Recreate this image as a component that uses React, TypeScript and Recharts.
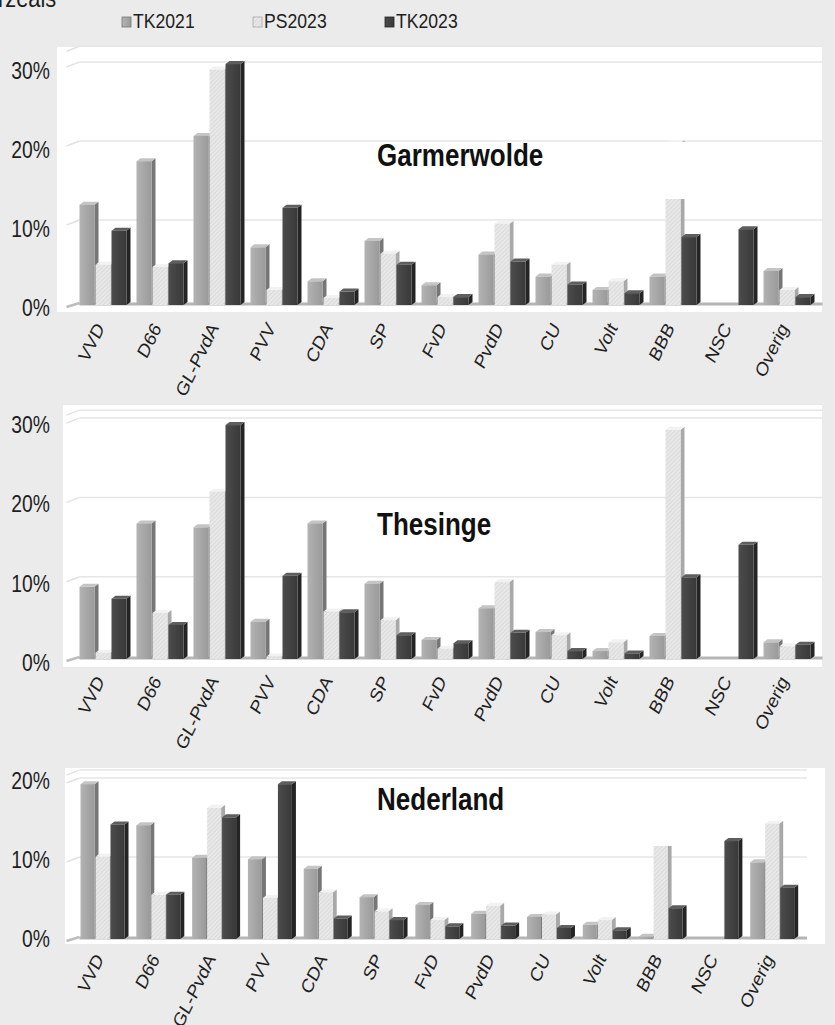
import React from "react";
import { BarChart, Bar, XAxis, YAxis, CartesianGrid } from "recharts";

// Vote share per party (%), three elections, three areas.
const categories = ["VVD", "D66", "GL-PvdA", "PVV", "CDA", "SP", "FvD", "PvdD", "CU", "Volt", "BBB", "NSC", "Overig"];
const seriesNames = ["TK2021", "PS2023", "TK2023"];

const garmerTK21 = [12.7, 18.2, 21.4, 7.3, 3.0, 8.1, 2.5, 6.4, 3.6, 1.9, 3.6, 0, 4.3];
const garmerPS23 = [5.1, 4.8, 29.8, 1.9, 0.9, 6.5, 1.0, 10.3, 5.1, 3.0, 20.5, 0, 1.9];
const garmerTK23 = [9.4, 5.3, 30.5, 12.3, 1.7, 5.1, 1.0, 5.5, 2.6, 1.5, 8.6, 9.6, 1.0];

const thesTK21 = [9.1, 17.1, 16.6, 4.7, 17.1, 9.5, 2.4, 6.4, 3.4, 1.0, 2.9, 0, 2.1];
const thesPS23 = [0.8, 5.8, 21.1, 0.3, 6.0, 4.9, 1.3, 9.7, 3.0, 2.1, 28.9, 0, 1.6];
const thesTK23 = [7.6, 4.3, 29.5, 10.5, 5.9, 3.0, 2.0, 3.3, 1.0, 0.7, 10.3, 14.4, 1.8];

const nlTK21 = [19.6, 14.4, 10.3, 10.1, 8.9, 5.3, 4.3, 3.2, 2.8, 1.8, 0.3, 0, 9.7];
const nlPS23 = [10.4, 5.6, 16.6, 5.2, 5.9, 3.5, 2.4, 4.2, 3.1, 2.4, 19.2, 0, 14.6];
const nlTK23 = [14.5, 5.6, 15.4, 19.6, 2.6, 2.4, 1.6, 1.7, 1.4, 1.1, 3.9, 12.4, 6.5];

const ticks30 = [0, 10, 20, 30];
const ticks20 = [0, 10, 20];

const FONT = "'Liberation Sans', Arial, sans-serif";
const SQ = 0.84; // the source text is horizontally squeezed

const colors = [
  { front: "url(#gTK21)", side: "#767676", top: "#c4c4c4" },
  { front: "url(#pPS23)", side: "#a9a9a9", top: "#f2f2f2" },
  { front: "url(#gTK23)", side: "#242424", top: "#5e5e5e" },
];

function build(a: number[], b: number[], c: number[]) {
  return categories.map((name, i) => ({ name, TK2021: a[i], PS2023: b[i], TK2023: c[i] }));
}

function Bar3D(props: any) {
  const { x, y, width, height, front, side, top } = props;
  if (!height || height <= 0) return null;
  const dx = 4;
  const dy = 3;
  return (
    <g>
      <polygon
        points={`${x + width},${y} ${x + width + dx},${y - dy} ${x + width + dx},${y + height - dy} ${x + width},${y + height}`}
        fill={side}
      />
      <polygon points={`${x},${y} ${x + dx},${y - dy} ${x + width + dx},${y - dy} ${x + width},${y}`} fill={top} />
      <rect x={x} y={y} width={width} height={height} fill={front} />
    </g>
  );
}

type PanelProps = {
  top: number;
  data: any[];
  max: number;
  px: number;
  ticks: number[];
  right: number;
  barSize: number;
  shift: number;
  labelDy: number;
  tickDy: number;
};

function Panel({ top, data, max, px, ticks, right, barSize, shift, labelDy, tickDy }: PanelProps) {
  const H = 400;
  const base = 305; // plot bottom in chart coordinates
  const plotH = max * px;
  return (
    <div style={{ position: "absolute", left: 0, top, width: 835, height: H }}>
      <BarChart
        width={835}
        height={H}
        data={data}
        margin={{ top: base - plotH, right, bottom: 5, left: 14.5 }}
        barSize={barSize}
        barGap={1}
      >
        <CartesianGrid
          vertical={false}
          horizontal={(p: any) => {
            const { x1, x2, y1, key } = p;
            if (Math.abs(y1 - base) < 1) {
              return (
                <g key={key}>
                  <line x1={x1 - 8} y1={y1 + 2} x2={x1 + 5} y2={y1 - 2} stroke="#bdbdbd" strokeWidth={2.5} />
                  <line x1={x1 + 5} y1={y1 - 1} x2={x2 + 7} y2={y1 - 1} stroke="#b5b5b5" strokeWidth={3} />
                </g>
              );
            }
            const yy = y1 - shift;
            return (
              <g key={key}>
                <line x1={x1 - 8} y1={yy + 5} x2={x1 + 5} y2={yy} stroke="#e2e2e2" strokeWidth={1.5} />
                <line x1={x1 + 5} y1={yy} x2={x2 + 7} y2={yy} stroke="#e6e6e6" strokeWidth={1.5} />
              </g>
            );
          }}
        />
        <XAxis
          dataKey="name"
          interval={0}
          height={90}
          axisLine={false}
          tickLine={false}
          tick={(p: any) => (
            <g key={p.index} transform={`translate(${p.x + 2}, ${base + labelDy}) scale(${SQ}, 1) rotate(-60)`}>
              <text x={0} y={0} textAnchor="end" fontSize={20} fill="#1e1e1e" fontFamily={FONT}>
                {p.payload.value}
              </text>
            </g>
          )}
        />
        <YAxis
          domain={[0, max]}
          ticks={ticks}
          allowDataOverflow
          width={60}
          axisLine={false}
          tickLine={false}
          tick={(p: any) => (
            <g key={p.index} transform={`translate(50, ${p.y + tickDy}) scale(${SQ}, 1)`}>
              <text x={0} y={0} textAnchor="end" fontSize={23} fill="#1e1e1e" fontFamily={FONT}>
                {p.payload.value}%
              </text>
            </g>
          )}
        />
        {seriesNames.map((s, i) => (
          <Bar
            key={s}
            dataKey={s}
            isAnimationActive={false}
            shape={(p: any) => <Bar3D {...p} {...colors[i]} />}
          />
        ))}
      </BarChart>
    </div>
  );
}

export default function App() {
  const garmer = build(garmerTK21, garmerPS23, garmerTK23);
  const thes = build(thesTK21, thesPS23, thesTK23);
  const nl = build(nlTK21, nlPS23, nlTK23);
  const legendX = [122, 253, 385];
  return (
    <div style={{ position: "absolute", left: 0, top: 0, width: 835, height: 1025, background: "#ebebeb", overflow: "hidden" }}>
      <svg width={0} height={0} style={{ position: "absolute" }}>
        <defs>
          <linearGradient id="gTK21" x1="0" x2="1" y1="0" y2="0">
            <stop offset="0" stopColor="#b3b3b3" />
            <stop offset="1" stopColor="#9a9a9a" />
          </linearGradient>
          <linearGradient id="gTK23" x1="0" x2="1" y1="0" y2="0">
            <stop offset="0" stopColor="#4c4c4c" />
            <stop offset="1" stopColor="#393939" />
          </linearGradient>
          <pattern id="pPS23" width="3" height="3" patternUnits="userSpaceOnUse" patternTransform="rotate(45)">
            <rect width="3" height="3" fill="#e8e8e8" />
            <line x1="0" y1="0" x2="0" y2="3" stroke="#cdcdcd" strokeWidth="1" />
          </pattern>
        </defs>
      </svg>

      <div style={{ position: "absolute", left: 57, top: 47, width: 765, height: 265, background: "#fff" }} />
      <div style={{ position: "absolute", left: 63, top: 405, width: 759, height: 262, background: "#fff" }} />
      <div style={{ position: "absolute", left: 65, top: 768, width: 760, height: 176, background: "#fff" }} />

      <Panel top={0} data={garmer} max={32} px={7.9} ticks={ticks30} right={19.5} barSize={15} shift={6} labelDy={23} tickDy={11} />
      <Panel top={354} data={thes} max={31} px={7.93} ticks={ticks30} right={19.5} barSize={15} shift={3} labelDy={22} tickDy={12} />
      <Panel top={634} data={nl} max={21} px={7.9} ticks={ticks20} right={35} barSize={14} shift={3} labelDy={20} tickDy={8} />

      <svg width={835} height={1025} style={{ position: "absolute", left: 0, top: 0, pointerEvents: "none" }} fontFamily={FONT}>
        <g transform={`translate(-2, 7) scale(${SQ}, 1)`}>
          <text fontSize={26} fill="#1e1e1e">rzeals</text>
        </g>
        {seriesNames.map((s, i) => (
          <g key={s}>
            <rect x={legendX[i]} y={17} width={9} height={10} fill={colors[i].front} stroke={colors[i].side} strokeWidth={0.8} />
            <g transform={`translate(${legendX[i] + 11}, 28) scale(${SQ}, 1)`}>
              <text fontSize={21} fill="#1e1e1e">{s}</text>
            </g>
          </g>
        ))}
        <rect x={370} y={142} width={335} height={57} fill="#fff" />
        <rect x={370} y={780} width={330} height={66} fill="#fff" />
        {[["Garmerwolde", 166], ["Thesinge", 535], ["Nederland", 810]].map(([t, y]) => (
          <g key={t as string} transform={`translate(377, ${y}) scale(${SQ}, 1)`}>
            <text fontSize={31} fontWeight="bold" fill="#111">{t}</text>
          </g>
        ))}
      </svg>
    </div>
  );
}
